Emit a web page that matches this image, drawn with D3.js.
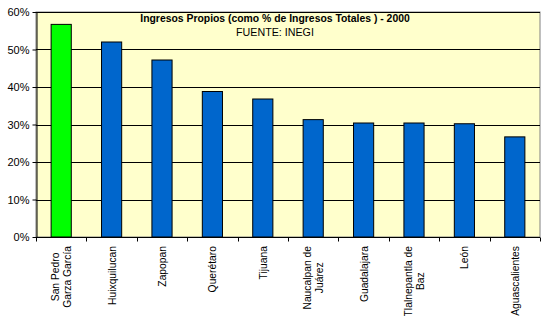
<!DOCTYPE html>
<html>
<head>
<meta charset="utf-8">
<script src="https://cdn.jsdelivr.net/npm/d3@7"></script>
<style>
  body { margin: 0; background: #fff; }
  text { font-family: Arial, "Liberation Sans", sans-serif; }
</style>
</head>
<body>
<div id="chart"></div>
<script>
// data
const municipios = ["San Pedro\nGarza García", "Huixquilucan", "Zapopan", "Querétaro", "Tijuana",
    "Naucalpan de\nJuárez", "Guadalajara", "Tlalnepantla de\nBaz", "León", "Aguascalientes"];
const ingresosPropios = [56.7, 52.0, 47.2, 38.8, 36.8, 31.3, 30.4, 30.4, 30.2, 26.7];
const yTicks = [0, 10, 20, 30, 40, 50, 60];
const chartTitle = "Ingresos Propios (como % de Ingresos Totales ) - 2000";
const chartSource = "FUENTE: INEGI";

const width = 541, height = 316;
const margin = { top: 12, right: 1, bottom: 79, left: 36 };
const plotW = width - margin.left - margin.right;
const plotH = height - margin.top - margin.bottom;

const svg = d3.select("#chart").append("svg")
    .attr("width", width)
    .attr("height", height);

const g = svg.append("g")
    .attr("transform", `translate(${margin.left}, ${margin.top})`);

const x = d3.scaleBand()
    .domain(municipios)
    .range([0, plotW])
    .paddingInner(0.6)
    .paddingOuter(0.3);

const y = d3.scaleLinear()
    .domain([0, 60])
    .range([plotH, 0]);

// plot background
g.append("rect")
    .attr("width", plotW)
    .attr("height", plotH)
    .attr("fill", "#ffffcc")
    .attr("stroke", "#808080")
    .attr("stroke-width", 1);

// gridlines
g.selectAll("line.grid")
    .data(yTicks.filter(t => t > 0))
    .join("line")
    .attr("class", "grid")
    .attr("x1", 0)
    .attr("x2", plotW)
    .attr("y1", d => Math.round(y(d)) + 0.5)
    .attr("y2", d => Math.round(y(d)) + 0.5)
    .attr("stroke", "#000");

// bars
g.selectAll("rect.bar")
    .data(municipios)
    .join("rect")
    .attr("class", "bar")
    .attr("x", d => x(d))
    .attr("y", (d, i) => y(ingresosPropios[i]))
    .attr("width", x.bandwidth())
    .attr("height", (d, i) => plotH - y(ingresosPropios[i]))
    .attr("fill", (d, i) => i === 0 ? "#00ff00" : "#0066cc")
    .attr("stroke", "#000")
    .attr("stroke-width", 1);

// Y axis
const yAxis = g.append("g")
    .attr("transform", "translate(0.5, 0)")
    .call(d3.axisLeft(y).tickValues(yTicks).tickFormat(d => d + "%").tickSize(4).tickSizeOuter(0));
yAxis.select(".domain").attr("stroke", "#000");
yAxis.selectAll("text")
    .attr("font-size", "11px")
    .attr("fill", "#000")
    .attr("x", -7);

// X axis: ticks on the band boundaries
const boundaries = d3.range(municipios.length + 1).map(i => i * plotW / municipios.length);
const xAxis = g.append("g")
    .attr("transform", `translate(0, ${plotH + 0.5})`);
xAxis.append("line")
    .attr("x1", 0).attr("x2", plotW)
    .attr("stroke", "#000");
xAxis.selectAll("line.tick")
    .data(boundaries)
    .join("line")
    .attr("class", "tick")
    .attr("x1", d => Math.round(d) + 0.5)
    .attr("x2", d => Math.round(d) + 0.5)
    .attr("y1", 0)
    .attr("y2", 4)
    .attr("stroke", "#000");

// rotated category labels
const lineH = 12;
xAxis.selectAll("text.cat")
    .data(municipios)
    .join("text")
    .attr("class", "cat")
    .attr("font-size", "10.3px")
    .attr("fill", "#000")
    .attr("transform", d => `translate(${x(d) + x.bandwidth() / 2}, 8.5) rotate(-90)`)
    .each(function(d) {
        const lines = d.split("\n");
        const t = d3.select(this);
        // center the lines against the longest one
        const spans = lines.map((s, j) => t.append("tspan").text(s)
            .attr("y", (j - (lines.length - 1) / 2) * lineH + 4));
        const lens = spans.map(s => s.node().getComputedTextLength());
        const maxL = d3.max(lens);
        spans.forEach((s, j) => s.attr("x", -(maxL + lens[j]) / 2));
    });

// title
svg.append("text")
    .attr("x", 275)
    .attr("y", 22)
    .attr("text-anchor", "middle")
    .attr("font-size", "10.4px")
    .attr("font-weight", "bold")
    .text(chartTitle);

svg.append("text")
    .attr("x", 275)
    .attr("y", 36)
    .attr("text-anchor", "middle")
    .attr("font-size", "10.7px")
    .text(chartSource);
</script>
</body>
</html>
